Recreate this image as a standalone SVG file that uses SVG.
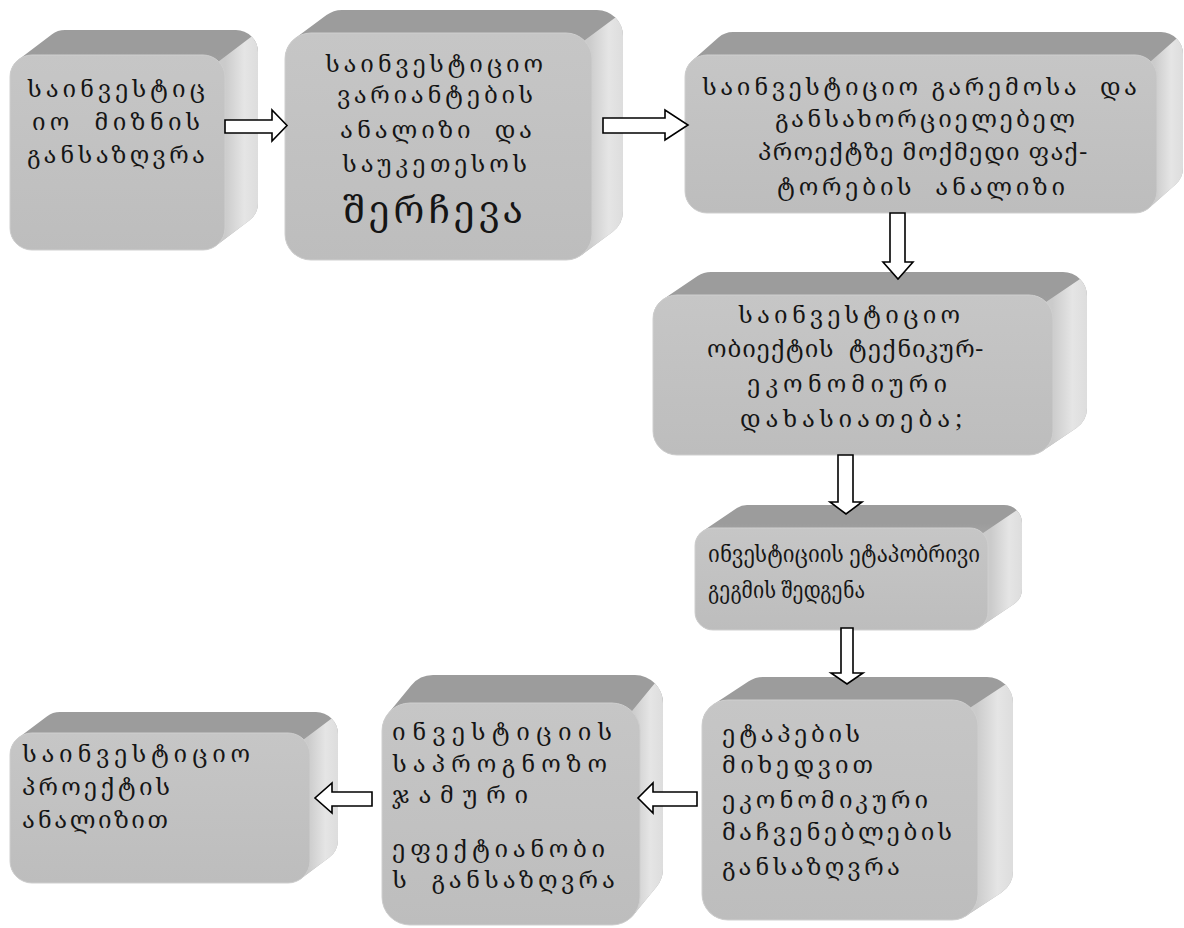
<svg xmlns="http://www.w3.org/2000/svg" width="1184" height="928" viewBox="0 0 1184 928">
<defs>
<linearGradient id="gTop" x1="0" y1="0" x2="0" y2="1">
<stop offset="0" stop-color="#9c9c9c"/><stop offset="0.25" stop-color="#a9a9a9"/><stop offset="1" stop-color="#b0b0b0"/>
</linearGradient>
<linearGradient id="gSide" x1="0" y1="0" x2="1" y2="0">
<stop offset="0.4" stop-color="#cbcbcb"/><stop offset="0.75" stop-color="#e5e5e5"/><stop offset="1" stop-color="#dddddd"/>
</linearGradient>
<linearGradient id="gFront" x1="0" y1="0" x2="0" y2="1">
<stop offset="0" stop-color="#c6c6c6"/><stop offset="1" stop-color="#bdbdbd"/>
</linearGradient>
<style>
.hull{fill:url(#gTop);stroke:url(#gTop);stroke-linejoin:round}
.side{fill:url(#gSide)}
.front{fill:url(#gFront);stroke:#cfcfcf;stroke-width:1}
.t{font-family:"Noto Serif Georgian","DejaVu Sans",sans-serif;font-size:24px;fill:#151515}
.big{font-size:38px}
.m{font-size:24px}
.arr{fill:#fff;stroke:#000;stroke-width:1.6;stroke-linejoin:miter}
</style>
</defs>

<g id="n1" transform="translate(10,55)">
<polygon class="hull" stroke-width="44" points="22,22 55,-3 226,-3 226,148 193,173 22,173"/>
<path class="side" d="M208.6,6.4 L241.6,-18.6 A22 22 0 0 1 248,-3 L248,148 A22 22 0 0 1 239.3,165.5 L206.3,190.5 L193,173 L193,22Z"/>
<rect class="front" x="0" y="0" width="215" height="195" rx="22"/>
</g>
<g id="n2" transform="translate(285,33)">
<polygon class="hull" stroke-width="52" points="26,26 57,3 312,3 312,178 281,201 26,201"/>
<path class="side" d="M299.4,7.6 L330.4,-15.4 A26 26 0 0 1 338,3 L338,178 A26 26 0 0 1 327.5,198.9 L296.5,221.9 L281,201 L281,26Z"/>
<rect class="front" x="0" y="0" width="307" height="227" rx="26"/>
</g>
<g id="n3" transform="translate(685,55)">
<polygon class="hull" stroke-width="44" points="22,22 48,-1 476,-1 476,113 450,136 22,136"/>
<path class="side" d="M465.6,6.4 L491.6,-16.6 A22 22 0 0 1 498,-1 L498,113 A22 22 0 0 1 490.6,129.5 L464.6,152.5 L450,136 L450,22Z"/>
<rect class="front" x="0" y="0" width="472" height="158" rx="22"/>
</g>
<g id="n4" transform="translate(653,295)">
<polygon class="hull" stroke-width="48" points="24,24 58,1 410,1 410,113 376,136 24,136"/>
<path class="side" d="M393,7 L427,-16 A24 24 0 0 1 434,1 L434,113 A24 24 0 0 1 423.4,132.9 L389.4,155.9 L376,136 L376,24Z"/>
<rect class="front" x="0" y="0" width="400" height="160" rx="24"/>
</g>
<g id="n5" transform="translate(695,528)">
<polygon class="hull" stroke-width="36" points="18,18 52,-5 309,-5 309,61 275,84 18,84"/>
<path class="side" d="M287.7,5.3 L321.7,-17.7 A18 18 0 0 1 327,-5 L327,61 A18 18 0 0 1 319.1,75.9 L285.1,98.9 L275,84 L275,18Z"/>
<rect class="front" x="0" y="0" width="293" height="102" rx="18"/>
</g>
<g id="n6" transform="translate(702,700)">
<polygon class="hull" stroke-width="52" points="26,26 61,3 285,3 285,171 250,194 26,194"/>
<path class="side" d="M268.4,7.6 L303.4,-15.4 A26 26 0 0 1 311,3 L311,171 A26 26 0 0 1 299.3,192.7 L264.3,215.7 L250,194 L250,26Z"/>
<rect class="front" x="0" y="0" width="276" height="220" rx="26"/>
</g>
<g id="n7" transform="translate(382,703)">
<polygon class="hull" stroke-width="56" points="28,28 51,0 253,0 253,166 230,194 28,194"/>
<path class="side" d="M249.8,8.2 L272.8,-19.8 A28 28 0 0 1 281,0 L281,166 A28 28 0 0 1 274.6,183.8 L251.6,211.8 L230,194 L230,28Z"/>
<rect class="front" x="0" y="0" width="258" height="222" rx="28"/>
</g>
<g id="n8" transform="translate(10,733)">
<polygon class="hull" stroke-width="44" points="22,22 50,1 306,1 306,107 278,128 22,128"/>
<path class="side" d="M293.6,6.4 L321.6,-14.6 A22 22 0 0 1 328,1 L328,107 A22 22 0 0 1 319.2,124.6 L291.2,145.6 L278,128 L278,22Z"/>
<rect class="front" x="0" y="0" width="300" height="150" rx="22"/>
</g>

<g id="labels">
<text class="t" x="27" y="97" textLength="178" lengthAdjust="spacing">საინვესტიც</text>
<text class="t" x="32" y="130" textLength="168" lengthAdjust="spacing" xml:space="preserve">იო  მიზნის</text>
<text class="t" x="27" y="163" textLength="178" lengthAdjust="spacing">განსაზღვრა</text>

<text class="t" x="325" y="72" textLength="218" lengthAdjust="spacing">საინვესტიციო</text>
<text class="t" x="337" y="103" textLength="196" lengthAdjust="spacing">ვარიანტების</text>
<text class="t" x="340" y="138" textLength="192" lengthAdjust="spacing" xml:space="preserve">ანალიზი  და</text>
<text class="t" x="342" y="172" textLength="185" lengthAdjust="spacing">საუკეთესოს</text>
<text class="t big" x="343" y="223" textLength="180" lengthAdjust="spacing">შერჩევა</text>

<text class="t" x="702" y="95" textLength="435" lengthAdjust="spacing" xml:space="preserve">საინვესტიციო გარემოსა  და</text>
<text class="t" x="775" y="127" textLength="300" lengthAdjust="spacing">განსახორციელებელ</text>
<text class="t" x="758" y="160" textLength="329" lengthAdjust="spacing">პროექტზე მოქმედი ფაქ-</text>
<text class="t" x="777" y="195" textLength="288" lengthAdjust="spacing" xml:space="preserve">ტორების  ანალიზი</text>

<text class="t" x="738" y="323" textLength="222" lengthAdjust="spacing">საინვესტიციო</text>
<text class="t" x="707" y="357" textLength="276" lengthAdjust="spacing" xml:space="preserve">ობიექტის  ტექნიკურ-</text>
<text class="t" x="747" y="392" textLength="200" lengthAdjust="spacing">ეკონომიური</text>
<text class="t" x="740" y="427" textLength="222" lengthAdjust="spacing">დახასიათება;</text>

<text class="t m" x="708" y="562" textLength="272" lengthAdjust="spacingAndGlyphs">ინვესტიციის ეტაპობრივი</text>
<text class="t m" x="708" y="598" textLength="157" lengthAdjust="spacingAndGlyphs">გეგმის შედგენა</text>

<text class="t" x="722" y="742" textLength="138" lengthAdjust="spacing">ეტაპების</text>
<text class="t" x="722" y="773" textLength="151" lengthAdjust="spacing">მიხედვით</text>
<text class="t" x="722" y="808" textLength="206" lengthAdjust="spacing">ეკონომიკური</text>
<text class="t" x="722" y="840" textLength="230" lengthAdjust="spacing">მაჩვენებლების</text>
<text class="t" x="722" y="875" textLength="178" lengthAdjust="spacing">განსაზღვრა</text>

<text class="t" x="392" y="740" textLength="220" lengthAdjust="spacing">ინვესტიციის</text>
<text class="t" x="392" y="772" textLength="215" lengthAdjust="spacing">საპროგნოზო</text>
<text class="t" x="392" y="803" textLength="136" lengthAdjust="spacing">ჯამური</text>
<text class="t" x="392" y="857" textLength="213" lengthAdjust="spacing">ეფექტიანობი</text>
<text class="t" x="392" y="888" textLength="223" lengthAdjust="spacing" xml:space="preserve">ს  განსაზღვრა</text>

<text class="t" x="22" y="762" textLength="228" lengthAdjust="spacing">საინვესტიციო</text>
<text class="t" x="22" y="795" textLength="148" lengthAdjust="spacing">პროექტის</text>
<text class="t" x="22" y="828" textLength="146" lengthAdjust="spacing">ანალიზით</text>
</g>

<g id="connectors">
<path class="arr" d="M225,120 L272,120 L272,110 L287,125.5 L272,141 L272,133 L225,133 Z"/>
<path class="arr" d="M603,118 L665,118 L665,110 L688,125 L665,140 L665,133 L603,133 Z"/>
<path class="arr" d="M890,213 L905,213 L905,262 L913,262 L898,279 L883,262 L890,262 Z"/>
<path class="arr" d="M838,455 L853,455 L853,502 L862,502 L846,514 L830,502 L838,502 Z"/>
<path class="arr" d="M841,628 L853,628 L853,673 L863,673 L847,684 L831,673 L841,673 Z"/>
<path class="arr" d="M697,792 L653,792 L653,783 L638,798 L653,813 L653,806 L697,806 Z"/>
<path class="arr" d="M372,792 L332,792 L332,783 L315,798 L332,813 L332,806 L372,806 Z"/>
</g>
</svg>
